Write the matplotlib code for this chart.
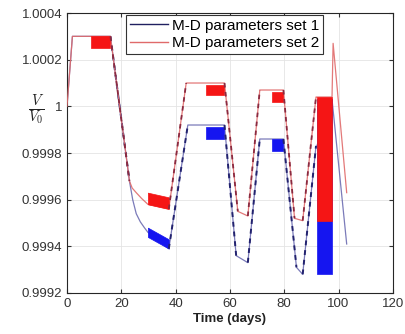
import numpy as np
import matplotlib.pyplot as plt

# ------------------------------------------------------------------
# data (time in days, relative volume V/V0)
# ------------------------------------------------------------------
t_set1 = [0, 2, 16, 23, 24.2, 25.5, 27.0, 28.5, 29.8, 37.5, 44.5, 58, 62.3,
          66.6, 71, 79.7, 84.5, 86.8, 91.7, 92, 97.6, 103]
v_set1 = [1.0, 1.0003, 1.0003, 0.99968, 0.9996, 0.99954, 0.999505, 0.99948,
          0.99946, 0.99939, 0.99992, 0.99992, 0.99936, 0.99933, 0.99986,
          0.99986, 0.99931, 0.99928, 0.99983, 0.99983, 1.00003, 0.99941]

t_set2 = [0, 2, 16, 23, 24, 25.5, 27.5, 29.8, 37.5, 43.9, 58, 62.9, 66.6,
          71, 79.7, 83.8, 86.8, 91.7, 92, 97.6, 98, 103]
v_set2 = [1.0, 1.0003, 1.0003, 0.99968, 0.99965, 0.99963, 0.999605, 0.99958,
          0.99956, 1.0001, 1.0001, 0.99955, 0.99953, 1.00007, 1.00007,
          0.99952, 0.99951, 1.00004, 1.00004, 1.00004, 1.00027, 0.99963]

# oscillation bands: (t start, t end, lower start, lower end, upper start, upper end)
bands_set1 = [
    (29.8, 37.5, 0.99944, 0.99939, 0.99948, 0.99943),
    (51.3, 58.0, 0.99986, 0.99986, 0.99991, 0.99991),
    (75.5, 79.7, 0.99981, 0.99981, 0.99986, 0.99986),
    (92.0, 97.6, 0.99928, 0.99928, 1.00003, 1.00003),
]
bands_set2 = [
    (8.9, 15.7, 1.00025, 1.00025, 1.0003, 1.0003),
    (29.8, 37.5, 0.99958, 0.99956, 0.99963, 0.99961),
    (51.3, 58.0, 1.00005, 1.00005, 1.00009, 1.00009),
    (75.5, 79.7, 1.00002, 1.00002, 1.00006, 1.00006),
    (92.0, 97.6, 0.99951, 0.99951, 1.00004, 1.00004),
]

# time windows where the ramps look dashed
ramps = [(16, 23), (37.5, 44.5), (58, 63), (66.6, 71), (79.7, 84.5), (86.8, 91.7)]

x_ticks = [0, 20, 40, 60, 80, 100, 120]
y_ticks = [0.9992, 0.9994, 0.9996, 0.9998, 1.0, 1.0002, 1.0004]
y_labels = ['0.9992', '0.9994', '0.9996', '0.9998', '1', '1.0002', '1.0004']

plt.rcParams['font.family'] = ['Liberation Sans', 'DejaVu Sans']
plt.rcParams['mathtext.fontset'] = 'cm'

fig = plt.figure(figsize=(4.05, 3.34), dpi=100)
ax = fig.add_axes([0.1654, 0.1228, 0.8046, 0.8382])

c1_line, c1_dash, c1_fill = '#5a5aa8', '#22226e', '#1515f0'
c2_line, c2_dash, c2_fill = '#e06a6a', '#8a2a40', '#f51515'

t1, v1 = np.array(t_set1), np.array(v_set1)
t2, v2 = np.array(t_set2), np.array(v_set2)

# series 1 (blue) underneath
ax.plot(t1, v1, color=c1_line, lw=0.9, alpha=0.8, label='M-D parameters set 1')
for b in bands_set1:
    ax.fill_between([b[0], b[1]], [b[2], b[3]], [b[4], b[5]],
                    color=c1_fill, lw=0.5, zorder=3)
for a, b in ramps:
    m = (t1 >= a) & (t1 <= b)
    ax.plot(t1[m], v1[m], color=c1_dash, lw=1.4, ls=(0, (2.5, 2.5)), zorder=3)

# series 2 (red) on top
ax.plot(t2, v2, color=c2_line, lw=0.9, alpha=0.9, zorder=4,
        label='M-D parameters set 2')
for b in bands_set2:
    ax.fill_between([b[0], b[1]], [b[2], b[3]], [b[4], b[5]],
                    color=c2_fill, lw=0.5, zorder=5)
for a, b in ramps:
    m = (t2 >= a) & (t2 <= b)
    ax.plot(t2[m], v2[m], color=c2_dash, lw=1.3, ls=(0, (2.5, 2.5)), zorder=5)

ax.set_xlim(0, 120)
ax.set_ylim(0.9992, 1.0004)
ax.set_xticks(x_ticks)
ax.set_yticks(y_ticks)
ax.set_yticklabels(y_labels)
ax.tick_params(direction='in', length=3, top=True, right=True,
               labelsize=9.5, colors='#333333')
ax.grid(True, color='#e4e4e4', lw=0.6)
ax.set_axisbelow(True)
for s in ax.spines.values():
    s.set_color('#262626')
    s.set_linewidth(0.8)

ax.set_xlabel('Time (days)', fontsize=9.5, fontweight='bold', color='#222222',
              labelpad=2)
ax.text(-0.093, 0.655, r'$\frac{V}{V_0}$', transform=ax.transAxes,
        fontsize=15, ha='center', va='center', color='#222222')

leg = ax.legend(loc='upper left', bbox_to_anchor=(0.182, 0.993), fontsize=11,
                fancybox=False, edgecolor='#333333', framealpha=1,
                handlelength=2.5, handletextpad=0.25, borderpad=0.25,
                labelspacing=0.22, borderaxespad=0)
leg.get_frame().set_linewidth(0.8)
for h in leg.get_lines():
    h.set_alpha(1)
    h.set_linewidth(1.0)
leg.get_lines()[0].set_color('#202060')

fig.savefig('out.png', dpi=100)
